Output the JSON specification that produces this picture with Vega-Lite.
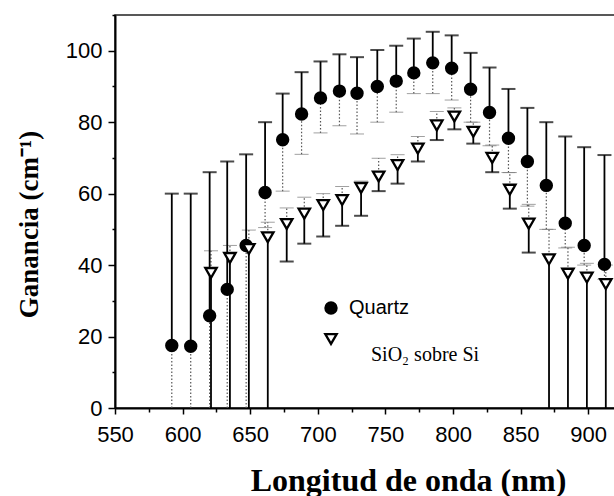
{
  "$schema": "https://vega.github.io/schema/vega-lite/v6.json",
  "autosize": "none",
  "width": 500,
  "height": 393,
  "padding": {"left": 115, "top": 15, "right": 0, "bottom": 88},
  "background": "white",
  "config": {
    "view": {"stroke": "#222", "strokeWidth": 1.5},
    "axis": {"grid": false, "domainColor": "black", "domainWidth": 2, "tickColor": "black", "tickWidth": 1.5, "labelColor": "black", "labelFont": "Liberation Sans", "labelFontSize": 22, "titleColor": "black", "labelFlush": false, "labelOverlap": false, "labelBound": false}
  },
  "data": {"values": [
    {"series": "Quartz", "wl": 592, "g": 17.5, "lo": 0, "hi": 60},
    {"series": "Quartz", "wl": 606, "g": 17.3, "lo": 0, "hi": 60},
    {"series": "Quartz", "wl": 620, "g": 25.8, "lo": 0, "hi": 66},
    {"series": "Quartz", "wl": 633, "g": 33.2, "lo": 0, "hi": 69},
    {"series": "Quartz", "wl": 647, "g": 45.5, "lo": 0, "hi": 71},
    {"series": "Quartz", "wl": 661, "g": 60.3, "lo": 50.5, "hi": 80},
    {"series": "Quartz", "wl": 674, "g": 75.1, "lo": 60.7, "hi": 88},
    {"series": "Quartz", "wl": 688, "g": 82.3, "lo": 71, "hi": 94},
    {"series": "Quartz", "wl": 702, "g": 86.8, "lo": 77, "hi": 97},
    {"series": "Quartz", "wl": 716, "g": 88.7, "lo": 79, "hi": 99},
    {"series": "Quartz", "wl": 729, "g": 88.1, "lo": 76.7, "hi": 98.2},
    {"series": "Quartz", "wl": 744, "g": 90, "lo": 80, "hi": 100.2},
    {"series": "Quartz", "wl": 758, "g": 91.5, "lo": 82.8, "hi": 101.4},
    {"series": "Quartz", "wl": 771, "g": 93.8, "lo": 88, "hi": 103.4},
    {"series": "Quartz", "wl": 785, "g": 96.6, "lo": 88, "hi": 105.3},
    {"series": "Quartz", "wl": 799, "g": 95.1, "lo": 86.2, "hi": 104.3},
    {"series": "Quartz", "wl": 813, "g": 89.2, "lo": 80, "hi": 99.4},
    {"series": "Quartz", "wl": 827, "g": 82.7, "lo": 73.4, "hi": 95.3},
    {"series": "Quartz", "wl": 841, "g": 75.5, "lo": 65.9, "hi": 89.3},
    {"series": "Quartz", "wl": 855, "g": 69, "lo": 56.5, "hi": 84},
    {"series": "Quartz", "wl": 869, "g": 62.3, "lo": 50, "hi": 80},
    {"series": "Quartz", "wl": 883, "g": 51.7, "lo": 44.8, "hi": 76},
    {"series": "Quartz", "wl": 897, "g": 45.5, "lo": 40, "hi": 73},
    {"series": "Quartz", "wl": 912, "g": 40.2, "lo": 36, "hi": 70.8},
    {"series": "SiO2", "wl": 621, "g": 37.8, "lo": 0, "hi": 44},
    {"series": "SiO2", "wl": 635, "g": 42, "lo": 0, "hi": 45.5},
    {"series": "SiO2", "wl": 649, "g": 44.5, "lo": 0, "hi": 49.8},
    {"series": "SiO2", "wl": 663, "g": 47.8, "lo": 0, "hi": 52},
    {"series": "SiO2", "wl": 677, "g": 51.5, "lo": 41, "hi": 56},
    {"series": "SiO2", "wl": 690, "g": 54.4, "lo": 46, "hi": 59},
    {"series": "SiO2", "wl": 704, "g": 56.8, "lo": 48, "hi": 60},
    {"series": "SiO2", "wl": 718, "g": 58.2, "lo": 51, "hi": 62},
    {"series": "SiO2", "wl": 732, "g": 61.6, "lo": 53.8, "hi": 63.5},
    {"series": "SiO2", "wl": 745, "g": 64.8, "lo": 60.7, "hi": 69.9},
    {"series": "SiO2", "wl": 759, "g": 68, "lo": 62.8, "hi": 70.9},
    {"series": "SiO2", "wl": 774, "g": 72.6, "lo": 69, "hi": 76},
    {"series": "SiO2", "wl": 788, "g": 79.1, "lo": 75, "hi": 83},
    {"series": "SiO2", "wl": 801, "g": 81.6, "lo": 78, "hi": 84},
    {"series": "SiO2", "wl": 815, "g": 77.3, "lo": 74, "hi": 80},
    {"series": "SiO2", "wl": 829, "g": 70, "lo": 66, "hi": 73.6},
    {"series": "SiO2", "wl": 842, "g": 61.1, "lo": 55.8, "hi": 65.9},
    {"series": "SiO2", "wl": 856, "g": 51.6, "lo": 43.5, "hi": 57},
    {"series": "SiO2", "wl": 871, "g": 41.6, "lo": 0, "hi": 50},
    {"series": "SiO2", "wl": 885, "g": 37.6, "lo": 0, "hi": 45},
    {"series": "SiO2", "wl": 899, "g": 36.5, "lo": 0, "hi": 40.5},
    {"series": "SiO2", "wl": 913, "g": 34.7, "lo": 0, "hi": 40}
  ]},
  "encoding": {
    "x": {"field": "wl", "type": "quantitative",
      "scale": {"domain": [550, 919.8], "nice": false, "zero": false},
      "axis": {"values": [550, 575, 600, 625, 650, 675, 700, 725, 750, 775, 800, 825, 850, 875, 900],
        "labelExpr": "datum.value % 50 === 0 ? datum.label : ''",
        "tickSize": {"condition": {"test": "datum.value % 50 === 0", "value": 6}, "value": 4},
        "labelPadding": 10,
        "title": "Longitud de onda (nm)", "titleFont": "Liberation Serif", "titleFontWeight": "bold", "titleFontSize": 32,
        "titleX": 293, "titleY": 82, "titleBaseline": "alphabetic", "titleAlign": "center", "titleAnchor": null}
    },
    "y": {"field": "g", "type": "quantitative",
      "scale": {"domain": [0, 110], "nice": false},
      "axis": {"values": [0, 10, 20, 30, 40, 50, 60, 70, 80, 90, 100, 110],
        "labelExpr": "datum.value % 20 === 0 ? datum.label : ''",
        "tickSize": {"condition": {"test": "datum.value % 20 === 0", "value": 7}, "value": 3},
        "labelPadding": 6,
        "title": "Ganancia (cm⁻¹)", "titleFont": "Liberation Serif", "titleFontWeight": "bold", "titleFontSize": 27,
        "titleAngle": -90, "titleX": -78, "titleY": 209, "titleAlign": "center", "titleBaseline": "alphabetic", "titleAnchor": null}
    }
  },
  "layer": [
    {
      "transform": [{"filter": "datum.series === 'Quartz'"}],
      "mark": {"type": "rule", "color": "#555", "strokeWidth": 1.2, "strokeDash": [1.5, 2]},
      "encoding": {"y": {"field": "lo", "type": "quantitative"}, "y2": {"field": "g"}}
    },
    {
      "transform": [{"filter": "datum.series === 'Quartz' && datum.lo > 0"}],
      "mark": {"type": "tick", "orient": "horizontal", "color": "#777", "thickness": 1, "size": 14},
      "encoding": {"y": {"field": "lo", "type": "quantitative"}}
    },
    {
      "transform": [{"filter": "datum.series === 'SiO2'"}],
      "mark": {"type": "rule", "color": "#555", "strokeWidth": 1.2, "strokeDash": [1.5, 2]},
      "encoding": {"y": {"field": "g", "type": "quantitative"}, "y2": {"field": "hi"}}
    },
    {
      "transform": [{"filter": "datum.series === 'SiO2'"}],
      "mark": {"type": "tick", "orient": "horizontal", "color": "#777", "thickness": 1, "size": 14},
      "encoding": {"y": {"field": "hi", "type": "quantitative"}}
    },
    {
      "transform": [{"filter": "datum.series === 'Quartz'"}],
      "mark": {"type": "rule", "color": "black", "strokeWidth": 1.8},
      "encoding": {"y": {"field": "g", "type": "quantitative"}, "y2": {"field": "hi"}}
    },
    {
      "transform": [{"filter": "datum.series === 'Quartz'"}],
      "mark": {"type": "tick", "orient": "horizontal", "color": "black", "thickness": 2, "size": 14},
      "encoding": {"y": {"field": "hi", "type": "quantitative"}}
    },
    {
      "transform": [{"filter": "datum.series === 'SiO2'"}],
      "mark": {"type": "rule", "color": "black", "strokeWidth": 1.8},
      "encoding": {"y": {"field": "lo", "type": "quantitative"}, "y2": {"field": "g"}}
    },
    {
      "transform": [{"filter": "datum.series === 'SiO2' && datum.lo > 0"}],
      "mark": {"type": "tick", "orient": "horizontal", "color": "black", "thickness": 2, "size": 14},
      "encoding": {"y": {"field": "lo", "type": "quantitative"}}
    },
    {
      "transform": [{"filter": "datum.series === 'Quartz'"}],
      "mark": {"type": "point", "shape": "circle", "size": 130, "filled": true, "stroke": "black", "strokeWidth": 2, "opacity": 1},
      "encoding": {
        "fill": {"field": "series", "type": "nominal",
          "scale": {"domain": ["Quartz"], "range": ["black"]},
          "legend": {"orient": "none", "legendX": 206, "legendY": 283, "title": null, "padding": 0,
            "labelFont": "Liberation Sans", "labelFontSize": 20, "labelColor": "black", "labelOffset": 8,
            "symbolSize": 130, "symbolFillColor": "black", "symbolStrokeColor": "black", "symbolStrokeWidth": 2, "symbolOpacity": 1}
        }
      }
    },
    {
      "transform": [{"filter": "datum.series === 'SiO2'"}],
      "mark": {"type": "point", "shape": "triangle-down", "size": 130, "filled": true, "fill": "white", "strokeWidth": 0, "opacity": 1}
    },
    {
      "transform": [{"filter": "datum.series === 'SiO2'"}],
      "mark": {"type": "point", "size": 130, "filled": false, "color": "black", "strokeWidth": 2.3, "opacity": 1},
      "encoding": {
        "shape": {"field": "series", "type": "nominal",
          "scale": {"domain": ["SiO2"], "range": ["triangle-down"]},
          "legend": {"orient": "none", "legendX": 206, "legendY": 314, "title": null, "padding": 0,
            "labelExpr": "['', 'SiO₂ sobre Si']", "labelBaseline": "alphabetic",
            "labelFont": "Liberation Serif", "labelFontSize": 20, "labelColor": "black", "labelOffset": 30,
            "symbolSize": 130, "symbolStrokeColor": "black", "symbolStrokeWidth": 2.3, "symbolOpacity": 1}
        }
      }
    }
  ]
}
